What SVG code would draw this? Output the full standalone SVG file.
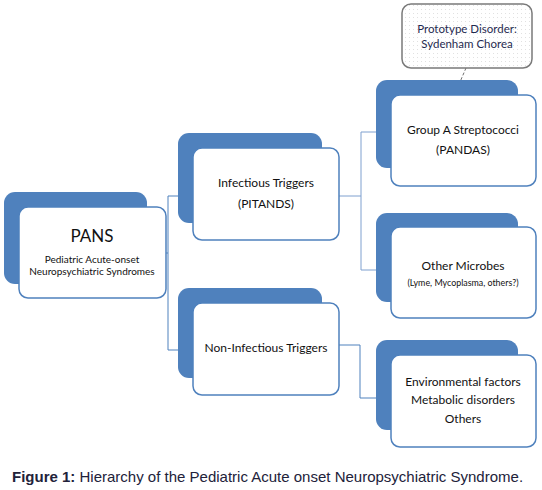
<svg xmlns="http://www.w3.org/2000/svg" width="542" height="490" viewBox="0 0 542 490">
<style>
.back{fill:#4F81BD;}
.front{fill:#FFFFFF;stroke:#4F81BD;stroke-width:1.5;}
.t{font-family:Lato,"Open Sans",sans-serif;fill:#111111;text-anchor:middle;}
.c{fill:none;stroke:#4F81BD;stroke-width:1;}
.c2{fill:none;stroke:#7FA0CF;stroke-width:1;}
.cap{font-family:"Liberation Sans",Arial,sans-serif;font-size:15px;fill:#22223a;}
</style>
<defs>
<pattern id="dots" width="4" height="4" patternUnits="userSpaceOnUse">
<rect x="1" y="1" width="0.8" height="0.8" fill="#d0d0d0"/>
</pattern>
</defs>
<rect width="542" height="490" fill="#FFFFFF"/>
<g id="connectors">
<polyline class="c" points="166,253 168,253"/>
<polyline class="c" points="195,196 168,196 168,350 195,350"/>
<polyline class="c2" points="339,196 361,196"/>
<polyline class="c2" points="391,132 361,132 361,270 391,270"/>
<polyline class="c" points="339,345 360,345 360,398 391,398"/>
<line x1="466" y1="68" x2="457" y2="89" stroke="#707070" stroke-width="1" stroke-dasharray="3,2"/>
</g>
<g id="pans">
<rect class="back" x="4" y="192" width="143" height="92" rx="11"/>
<rect class="front" x="19" y="207" width="147" height="91" rx="9"/>
<text class="t" x="92" y="242" font-size="17">PANS</text>
<text class="t" x="92" y="263" font-size="10">Pediatric Acute-onset</text>
<text class="t" x="92" y="275" font-size="10">Neuropsychiatric Syndromes</text>
</g>
<g id="infectious">
<rect class="back" x="178" y="133" width="144" height="90" rx="11"/>
<rect class="front" x="193" y="148" width="146" height="92" rx="9"/>
<text class="t" x="266" y="187" font-size="12">Infectious Triggers</text>
<text class="t" x="266" y="208" font-size="12">(PITANDS)</text>
</g>
<g id="noninfectious">
<rect class="back" x="178" y="288" width="144" height="90" rx="11"/>
<rect class="front" x="193" y="303" width="146" height="92" rx="9"/>
<text class="t" x="266" y="352" font-size="12">Non-Infectious Triggers</text>
</g>
<g id="prototype">
<rect x="402" y="4" width="130" height="64" rx="9" fill="#FFFFFF" stroke="#7a7a7a" stroke-width="1.5"/>
<rect x="403" y="5" width="128" height="62" rx="8" fill="url(#dots)"/>
<text class="t" x="467" y="33" font-size="11.5" style="fill:#1F2A4F">Prototype Disorder:</text>
<text class="t" x="467" y="48" font-size="11.5" style="fill:#1F2A4F">Sydenham Chorea</text>
</g>
<g id="groupa">
<rect class="back" x="376" y="80" width="142" height="88" rx="11"/>
<rect class="front" x="391" y="95" width="145" height="91" rx="9"/>
<text class="t" x="463" y="134" font-size="12">Group A Streptococci</text>
<text class="t" x="463" y="154" font-size="12">(PANDAS)</text>
</g>
<g id="othermicrobes">
<rect class="back" x="376" y="213" width="142" height="89" rx="11"/>
<rect class="front" x="391" y="227" width="145" height="91" rx="9"/>
<text class="t" x="463" y="270" font-size="12">Other Microbes</text>
<text class="t" x="463" y="286" font-size="8.9">(Lyme, Mycoplasma, others?)</text>
</g>
<g id="environmental">
<rect class="back" x="376" y="340" width="142" height="90" rx="11"/>
<rect class="front" x="391" y="355" width="145" height="92" rx="9"/>
<text class="t" x="463" y="386" font-size="12">Environmental factors</text>
<text class="t" x="463" y="404" font-size="12">Metabolic disorders</text>
<text class="t" x="463" y="423" font-size="12">Others</text>
</g>
<text class="cap" x="12" y="482"><tspan font-weight="bold">Figure 1:</tspan> Hierarchy of the Pediatric Acute onset Neuropsychiatric Syndrome.</text>
</svg>
